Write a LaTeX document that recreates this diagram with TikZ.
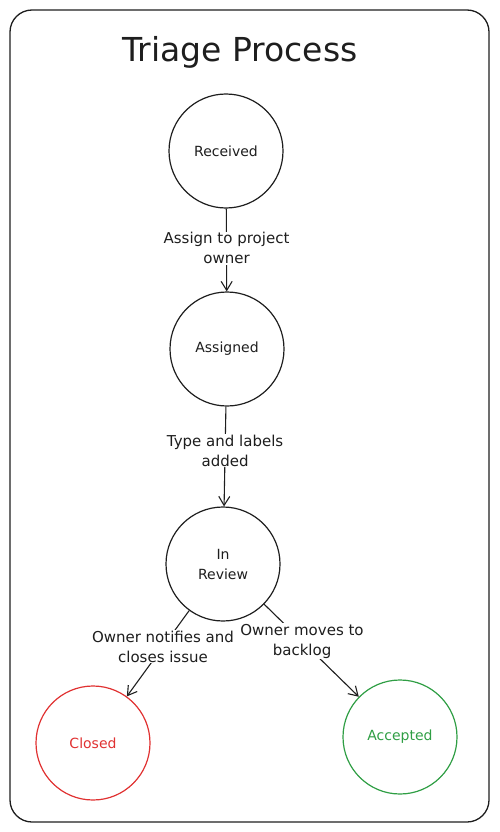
\documentclass[tikz,border=0pt]{standalone}
\usepackage{fontspec}
\setmainfont{DejaVu Sans}
\usetikzlibrary{arrows.meta}
\definecolor{exred}{HTML}{E03131}
\definecolor{exgreen}{HTML}{2F9E44}
\definecolor{ink}{HTML}{1E1E1E}
\begin{document}
\begin{tikzpicture}[x=1pt,y=-1pt,
  state/.style={circle,draw=ink,line width=1.2pt,minimum size=114pt,inner sep=0pt,align=center,
    font=\fontsize{14}{20}\selectfont,text=ink},
  edgelbl/.style={fill=white,align=center,inner sep=1pt,font=\fontsize{15}{20}\selectfont,text=ink},
  conn/.style={draw=ink,line width=1.1pt,-{Straight Barb[length=9pt,width=11pt,line width=1.1pt]}},
  frame/.style={draw=ink,line width=1.3pt,rounded corners=22pt}]
\useasboundingbox (0,0) rectangle (499,832);
\path[frame] (10,10) rectangle (489,822);
\node[font=\fontsize{33}{36}\selectfont,text=ink] (title) at (240,52) {Triage Process};
\node[state] (rec) at (226,151) {Received};
\node[state] (asg) at (227,349) {Assigned};
\node[state] (rev) at (223,564) {In\\Review};
\node[state,draw=exred,text=exred] (clo) at (93,743) {Closed};
\node[state,draw=exgreen,text=exgreen] (acc) at (400,737) {Accepted};
\draw[conn] (rec) -- node[edgelbl,pos=0.48] {Assign to project\\owner} (asg);
\draw[conn] (asg) -- node[edgelbl,pos=0.44] {Type and labels\\added} (rev);
\draw[conn] (rev) -- node[edgelbl,pos=0.42] {Owner notifies and\\closes issue} (clo);
\draw[conn] (rev) -- node[edgelbl,pos=0.40] {Owner moves to\\backlog} (acc);
\end{tikzpicture}
\end{document}
